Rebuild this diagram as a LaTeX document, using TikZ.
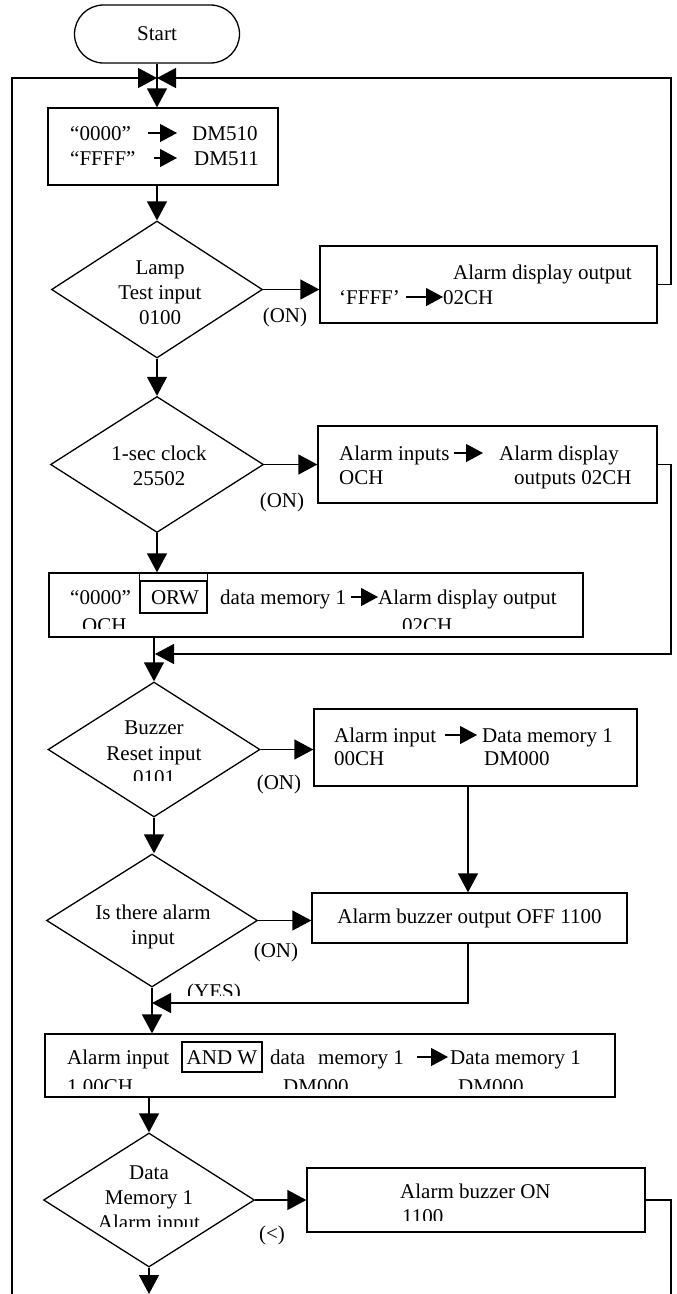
\documentclass[tikz,border=0pt]{standalone}
\usepackage{fontspec}
\setmainfont{Liberation Serif}
\usetikzlibrary{arrows.meta,shapes.geometric}
\tikzset{
  box/.style={draw, rectangle, inner sep=0pt, line width=1.3pt},
  dia/.style={draw, diamond, inner sep=0pt, line width=1.3pt},
  txt/.style={inner sep=0pt, font=\fontsize{21}{25}\selectfont},
  tw/.style={txt, anchor=base west},
  tc/.style={txt, anchor=base},
  conn/.style={line width=1.3pt},
  arr/.style={conn, -{Triangle[length=19pt,width=20pt]}},
  inarr/.style={line width=1.2pt, -{Triangle[length=17pt,width=18pt]}},
}
\begin{document}
\begin{tikzpicture}[x=1pt,y=-1pt]
\useasboundingbox (0,0) rectangle (677,1294);

% ---- nodes of the main column ----
\node[box, txt, rounded corners=29pt, minimum width=165pt, minimum height=58pt] (start) at (157,34) {Start};
\node[box, minimum width=230pt, minimum height=77pt] (dm) at (163,146.5) {};
\node[dia, minimum width=211pt, minimum height=137pt] (lamp) at (157,289.5) {};
\node[box, minimum width=337pt, minimum height=77pt] (lbox) at (488.5,284.5) {};
\node[dia, minimum width=213pt, minimum height=136pt] (sec) at (157,464.5) {};
\node[box, minimum width=339pt, minimum height=77pt] (sbox) at (487.5,464.5) {};
\node[box, minimum width=534pt, minimum height=64pt] (orw) at (316,605) {};
\node[dia, minimum width=212pt, minimum height=135pt] (buz) at (154,749.5) {};
\node[box, minimum width=323pt, minimum height=77pt] (bbox) at (475.5,747.5) {};
\node[dia, minimum width=211pt, minimum height=133pt] (alm) at (152,920.5) {};
\node[box, minimum width=315pt, minimum height=50pt] (obox) at (469.5,918) {};
\node[box, minimum width=570pt, minimum height=63pt] (andb) at (330,1065.5) {};
\node[dia, minimum width=211pt, minimum height=134pt] (lst) at (149,1200) {};
\node[box, minimum width=338pt, minimum height=64pt] (onb) at (476,1200) {};

% ---- junction / free-end coordinates ----
\coordinate (j1) at (157,78);
\coordinate (r1) at (671,78);
\coordinate (lb) at (12,1294);
\coordinate (j2) at (155,654);
\coordinate (r2) at (671,654);
\coordinate (j3) at (152,1003);
\coordinate (r3) at (671,1294);
\coordinate (endc) at (149,1294);

% ---- DM box texts ----
\node[tw] (d1) at (70,140) {“0000”};
\node[tw] (d2) at (192,140) {DM510};
\node[tw] (d3) at (70,165) {“FFFF”};
\node[tw] (d4) at (194,165) {DM511};
\draw[inarr] ([xshift=17pt,yshift=7pt]d1.base east) -- ([xshift=-15pt,yshift=7pt]d2.base west);
\draw[inarr] ([xshift=18pt,yshift=7pt]d3.base east) -- ([xshift=-17pt,yshift=7pt]d4.base west);

% ---- Lamp test ----
\node[tc] (l1) at (160,274) {Lamp};
\node[tc] (l2) at (160,299) {Test input};
\node[tc] (l3) at (160,324) {0100};
\node[tw] (lb1) at (453,279) {Alarm display output};
\node[tw] (lb2) at (339,304) {‘FFFF’};
\node[tw] (lb3) at (443,304) {02CH};
\draw[inarr] ([xshift=6pt,yshift=7pt]lb2.base east) -- ([yshift=7pt]lb3.base west);
\node[tc] (on1) at (285,322) {(ON)};

% ---- 1-sec clock ----
\node[tc] (s1) at (159,460) {1-sec clock};
\node[tc] (s2) at (159,485) {25502};
\node[tw] (sb1) at (339,460) {Alarm inputs};
\node[tw] (sb2) at (499,460) {Alarm display};
\node[tw] (sb3) at (339,484) {OCH};
\node[tw] (sb4) at (514,484) {outputs 02CH};
\draw[inarr] ([xshift=4pt,yshift=7pt]sb1.base east) -- ([xshift=-16pt,yshift=7pt]sb2.base west);
\node[tc] (on2) at (282,507) {(ON)};

% ---- ORW box ----
\node[box, minimum width=67pt, minimum height=32pt] (orwf) at (173.5,597) {};
\draw[conn] (orwf.north west) -- (orwf.north west |- orw.north);
\draw[conn] (orwf.north east) -- (orwf.north east |- orw.north);
\node[tw] (o1) at (70,604) {“0000”};
\node[tc] (o2) at (175,604) {ORW};
\node[tw] (o3) at (220,604) {data memory 1};
\node[tw] (o4) at (378,604) {Alarm display output};
\draw[inarr] ([xshift=5pt,yshift=7pt]o3.base east) -- ([yshift=7pt]o4.base west);
\begin{scope}
  \clip (55,615) rectangle (575,628);
  \node[tw] (o5) at (82,632) {OCH};
  \node[tw] (o6) at (402,632) {02CH};
\end{scope}

% ---- Buzzer reset ----
\node[tc] (b1) at (154,734) {Buzzer};
\node[tc] (b2) at (154,760) {Reset input};
\begin{scope}
  \clip (100,765) rectangle (210,780);
  \node[tc] (b3) at (154,784) {0101};
\end{scope}
\node[tw] (bb1) at (334,742) {Alarm input};
\node[tw] (bb2) at (482,742) {Data memory 1};
\node[tw] (bb3) at (334,765) {00CH};
\node[tw] (bb4) at (484,765) {DM000};
\draw[inarr] ([xshift=9pt,yshift=7pt]bb1.base east) -- ([xshift=-5pt,yshift=7pt]bb2.base west);
\node[tc] (on3) at (279,789) {(ON)};

% ---- Is there alarm input ----
\node[tc] (a1) at (153,919) {Is there alarm};
\node[tc] (a2) at (153,944) {input};
\node[txt] (ob1) at (469.5,918) {Alarm buzzer output OFF 1100};
\node[tc] (on4) at (276,957) {(ON)};
\begin{scope}
  \clip (180,975) rectangle (250,995);
  \node[tw] (yes) at (187,998.5) {(YES)};
\end{scope}

% ---- AND box ----
\node[box, minimum width=80pt, minimum height=30pt] (andf) at (222,1057) {};
\node[tw] (n1) at (67,1064) {Alarm input};
\node[tc] (n2) at (222,1064) {AND W};
\node[tw] (n3) at (270,1064) {data};
\node[tw] (n4) at (318,1064) {memory 1};
\node[tw] (n5) at (450,1064) {Data memory 1};
\draw[inarr] ([xshift=13pt,yshift=7pt]n4.base east) -- ([xshift=-2pt,yshift=7pt]n5.base west);
\begin{scope}
  \clip (55,1075) rectangle (600,1088);
  \node[tw] (n6) at (67,1093) {1 00CH};
  \node[tw] (n7) at (283,1093) {DM000};
  \node[tw] (n8) at (458,1093) {DM000};
\end{scope}

% ---- last decision ----
\node[tc] (m1) at (149,1179) {Data};
\node[tc] (m2) at (149,1204) {Memory 1};
\begin{scope}
  \clip (80,1210) rectangle (220,1226);
  \node[tc] (m3) at (149,1229) {Alarm input};
\end{scope}
\node[tw] (on5t) at (400,1198) {Alarm buzzer ON};
\begin{scope}
  \clip (390,1205) rectangle (450,1220);
  \node[tw] (on5b) at (402,1223) {1100};
\end{scope}
\node[tc] (lt) at (272,1240) {(<)};

% ---- connectors ----
\draw[arr] (start.south) -- (start.south |- dm.north);
\draw[arr] (dm.south -| lamp.north) -- (lamp.north);
\draw[arr] (lamp.east) -- (lamp.east -| lbox.west);
\draw[arr] (lamp.south) -- (sec.north);
\draw[arr] (sec.east) -- (sec.east -| sbox.west);
\draw[arr] (sec.south) -- (sec.south |- orw.north);
\draw[arr] (orw.south -| buz.north) -- (buz.north);
\draw[arr] (buz.east) -- (buz.east -| bbox.west);
\draw[arr] (buz.south) -- (buz.south |- alm.north);
\draw[arr] ([xshift=-7.5pt]bbox.south) -- ([xshift=-7.5pt]bbox.south |- obox.north);
\draw[arr] (alm.east) -- (alm.east -| obox.west);
\draw[arr] ([xshift=-1.5pt]obox.south) |- (j3);
\draw[arr] (alm.south) -- (alm.south |- andb.north);
\draw[arr] (andb.south -| lst.north) -- (lst.north);
\draw[arr] (lst.east) -- (lst.east -| onb.west);
\draw[arr] (lst.south) -- (endc);
% loops
\draw[arr] (lb) -- (12,78) -- (j1);
\draw[arr] (lbox.east) -| (r1) -- (j1);
\draw[arr] (sbox.east) -| (r2) -- (j2);
\draw[conn] (onb.east) -| (r3);
\end{tikzpicture}
\end{document}
